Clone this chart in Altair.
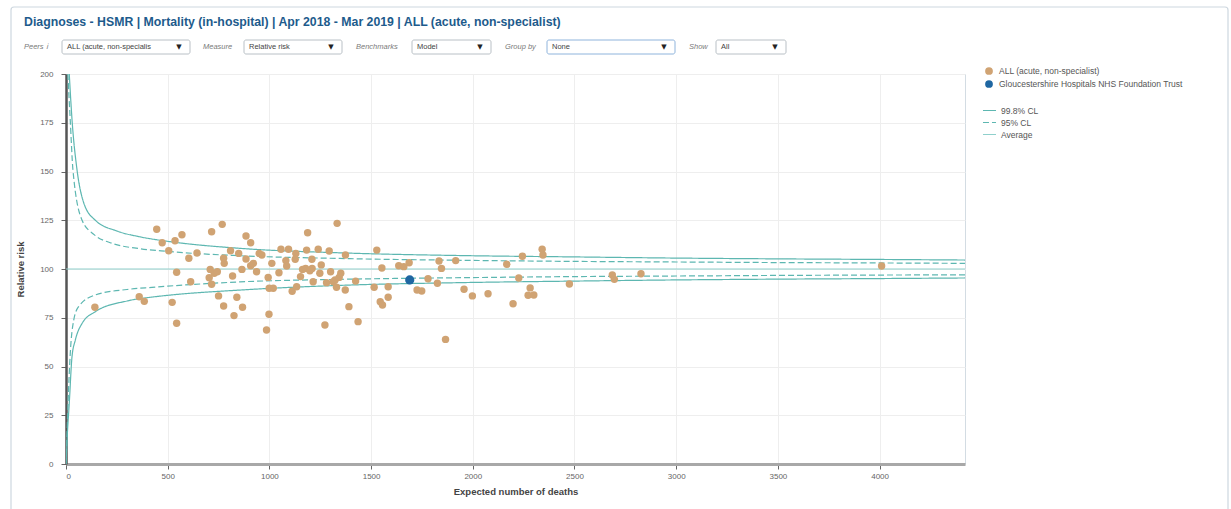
import altair as alt
import pandas as pd

# ---------------- data ----------------
group_names = ["ALL (acute, non-specialist)", "Gloucestershire Hospitals NHS Foundation Trust"]

peer_E = [142, 360, 385, 446, 473, 505, 536, 570, 522, 544, 544, 604, 613, 644, 716, 768,
          709, 704, 716, 729, 744, 775, 778, 750, 775, 809, 819, 840, 826, 849, 865, 868,
          885, 908, 885, 908, 921, 937, 950, 963, 994, 999, 1019, 998, 986, 1012, 1047, 1057,
          1081, 1085, 1094, 1112, 1130, 1127, 1134, 1153, 1163, 1178, 1183, 1188, 1199, 1209,
          1210, 1215, 1240, 1248, 1255, 1273, 1281, 1294, 1301, 1314, 1323, 1330, 1333, 1343,
          1351, 1373, 1374, 1391, 1424, 1436, 1515, 1528, 1553, 1545, 1556, 1584, 1584, 1636,
          1661, 1687, 1726, 1749, 1780, 1826, 1834, 1846, 1866, 1916, 1957, 1998, 2075, 2167,
          2198, 2226, 2244, 2272, 2282, 2300, 2341, 2345, 2475, 2686, 2696, 2827, 4010]
peer_RR = [80.4, 85.8, 83.4, 120.4, 113.5, 109.4, 114.5, 117.6, 82.9, 98.3, 72.2, 105.5, 93.5,
           108.2, 119.1, 122.9, 99.8, 95.5, 92.2, 97.8, 98.6, 105.5, 102.9, 86.2, 81.0, 109.4,
           96.4, 85.5, 76.1, 108.0, 99.8, 80.4, 116.9, 113.5, 105.1, 101.7, 102.9, 98.6, 108.0,
           107.2, 95.7, 90.1, 90.1, 76.8, 68.7, 102.9, 98.1, 110.1, 104.3, 101.5, 110.1, 88.6,
           108.0, 105.0, 90.9, 96.1, 99.8, 100.3, 109.7, 118.6, 99.1, 105.0, 100.3, 93.5, 110.1,
           97.8, 102.1, 71.3, 93.0, 109.2, 98.6, 93.5, 94.4, 90.6, 123.4, 95.7, 97.8, 89.2,
           107.2, 80.7, 93.8, 73.0, 90.6, 109.7, 100.5, 83.2, 81.5, 90.9, 85.5, 101.7, 101.2,
           103.2, 89.2, 88.7, 95.0, 92.7, 104.1, 100.3, 63.9, 104.3, 89.6, 86.2, 87.3, 102.4,
           82.2, 95.4, 106.5, 86.5, 90.3, 86.7, 110.1, 107.2, 92.3, 96.9, 94.7, 97.6, 101.5]
trust_E = [1690]
trust_RR = [94.4]

line_names = ["99.8% CL", "95% CL", "Average"]

up998_E = [16, 30, 54, 87, 144, 250, 364, 500, 855, 1346, 1937, 2500, 3000, 3500, 4000, 4420]
up998_V = [200, 176, 151, 134, 125, 119.5, 116.5, 114.2, 110.6, 108.3, 106.9, 106.2, 105.6, 105.2, 104.9, 104.6]
lo998_E = [0, 1, 6, 16, 29.5, 46, 79, 144, 300, 423, 500, 855, 1346, 1937, 2500, 3000, 3500, 4000, 4420]
lo998_V = [0, 2, 14, 31, 55, 63.6, 72.1, 78.1, 83.6, 85.6, 86.5, 89.2, 91.6, 93.0, 93.8, 94.4, 94.8, 95.1, 95.4]
up95_E = [9, 21, 34, 79, 140, 226, 364, 500, 855, 1346, 2000, 2500, 3000, 3500, 4000, 4420]
up95_V = [200, 176, 151, 125, 117.5, 113.2, 110.4, 109.0, 106.8, 105.4, 104.4, 103.9, 103.6, 103.3, 103.1, 102.9]
lo95_E = [0, 2.5, 10, 21, 38, 62, 144, 300, 423, 500, 855, 1346, 2000, 2500, 3000, 3500, 4000, 4420]
lo95_V = [0, 7, 31, 56.8, 73.8, 80.7, 86.7, 89.5, 90.6, 91.2, 93.4, 94.7, 95.6, 96.1, 96.4, 96.7, 96.9, 97.0]
avg_E = [0, 4420]
avg_V = [100, 100]

x_ticks = [0, 500, 1000, 1500, 2000, 2500, 3000, 3500, 4000]
y_ticks = [0, 25, 50, 75, 100, 125, 150, 175, 200]

title_text = "Diagnoses - HSMR | Mortality (in-hospital) | Apr 2018 - Mar 2019 | ALL (acute, non-specialist)"
control_labels = ["Peers \u2139", "Measure", "Benchmarks", "Group by", "Show"]
control_values = ["ALL (acute, non-specialis", "Relative risk", "Model", "None", "All"]
x_title = "Expected number of deaths"
y_title = "Relative risk"

# ---------------- tables ----------------
pts_df = pd.DataFrame({
    "E": peer_E + trust_E,
    "RR": peer_RR + trust_RR,
    "group": [group_names[0]] * len(peer_E) + [group_names[1]] * len(trust_E),
})

rows = []
for cid, (es, vs, name) in enumerate([
    (avg_E, avg_V, line_names[2]),
    (up998_E, up998_V, line_names[0]),
    (lo998_E, lo998_V, line_names[0]),
    (up95_E, up95_V, line_names[1]),
    (lo95_E, lo95_V, line_names[1]),
]):
    for e, v in zip(es, vs):
        rows.append({"E": e, "V": v, "line": name, "curve": cid})
lines_df = pd.DataFrame(rows)

one = pd.DataFrame({"k": [0]})
FONT = "Liberation Sans"
OX, OY = 66, 74  # plot origin in page pixels

xscale = alt.Scale(domain=[0, 4420], nice=False, zero=False)
yscale = alt.Scale(domain=[0, 200], nice=False)
xaxis = alt.Axis(values=x_ticks, format="d", title=x_title, grid=True, gridColor="#eeeeee",
                 domainColor="#a8a8a8", domainWidth=3, tickColor="#666666", tickSize=5,
                 labelFontSize=8, labelColor="#666666", labelPadding=3, labelFont=FONT,
                 titleFontSize=9.5, titleFontWeight="bold", titleColor="#444444",
                 titleFont=FONT, titlePadding=6)
yaxis = alt.Axis(values=y_ticks, format="d", title=y_title, grid=True, gridColor="#eeeeee",
                 domainColor="#555555", domainWidth=2.5, tickColor="#666666", tickSize=5,
                 labelFontSize=8, labelColor="#666666", labelPadding=8, labelFont=FONT,
                 titleFontSize=9.5, titleFontWeight="bold", titleColor="#444444",
                 titleFont=FONT, titlePadding=14)

layers = []

# outer panel frame
layers.append(alt.Chart(one).mark_rect(fillOpacity=0, stroke="#cdd7df", strokeWidth=1.2, cornerRadius=3).encode(
    x=alt.value(11 - OX), x2=alt.value(1228 - OX), y=alt.value(7 - OY), y2=alt.value(520 - OY)))

# title
layers.append(alt.Chart(one).mark_text(align="left", baseline="middle", fontSize=12.3, fontWeight="bold",
                                       color="#1d5b8c", font=FONT).encode(
    x=alt.value(24 - OX), y=alt.value(22 - OY), text=alt.value(title_text)))

# controls row
label_x = [24, 203, 356, 505, 689]
box_x = [(62, 190), (244, 342), (412, 491), (547, 675), (716, 786)]
for i, (lab, val) in enumerate(zip(control_labels, control_values)):
    bx0, bx1 = box_x[i]
    border = "#8fb4dc" if lab == "Group by" else "#b9c0c6"
    layers.append(alt.Chart(one).mark_text(align="left", baseline="middle", fontSize=7.5, fontStyle="italic",
                                           color="#7a7a7a", font=FONT).encode(
        x=alt.value(label_x[i] - OX), y=alt.value(47 - OY), text=alt.value(lab)))
    layers.append(alt.Chart(one).mark_rect(fill="white", stroke=border, strokeWidth=1, cornerRadius=2).encode(
        x=alt.value(bx0 - OX), x2=alt.value(bx1 - OX), y=alt.value(40 - OY), y2=alt.value(54 - OY)))
    layers.append(alt.Chart(one).mark_text(align="left", baseline="middle", fontSize=7.5,
                                           color="#444444", font=FONT).encode(
        x=alt.value(bx0 + 5 - OX), y=alt.value(47 - OY), text=alt.value(val)))
    layers.append(alt.Chart(one).mark_text(align="center", baseline="middle", fontSize=7,
                                           color="#222222", font="DejaVu Sans").encode(
        x=alt.value(bx1 - 11 - OX), y=alt.value(47 - OY), text=alt.value("\u25BC")))

line_legend = alt.Legend(orient="none", legendX=916, legendY=29, title=None, labelFontSize=8.5,
                         labelColor="#555555", labelFont=FONT, symbolSize=170, padding=0,
                         rowPadding=0, labelOffset=4, labelLimit=400, symbolType="stroke")
lines = alt.Chart(lines_df).mark_line(interpolate="monotone", clip=True).encode(
    x=alt.X("E:Q", scale=xscale, axis=xaxis),
    y=alt.Y("V:Q", scale=yscale, axis=yaxis),
    detail="curve:N",
    stroke=alt.Stroke("line:N", scale=alt.Scale(domain=line_names, range=["#5db7b1", "#5db7b1", "#8fd0cc"]),
                      legend=line_legend),
    strokeDash=alt.StrokeDash("line:N", scale=alt.Scale(domain=line_names, range=[[1, 0], [6, 3], [1, 0]]),
                              legend=line_legend),
    strokeWidth=alt.StrokeWidth("line:N", scale=alt.Scale(domain=line_names, range=[1.2, 1.2, 2.0]),
                                legend=line_legend),
)
layers.append(lines)

pt_legend = alt.Legend(orient="none", legendX=918, legendY=-8, title=None, labelFontSize=8.5,
                       labelColor="#555555", labelFont=FONT, padding=0, rowPadding=3, symbolSize=60,
                       labelOffset=5, labelLimit=400, symbolType="circle", symbolOpacity=1)
points = alt.Chart(pts_df).mark_circle(opacity=1).encode(
    x=alt.X("E:Q", scale=xscale, axis=xaxis),
    y=alt.Y("RR:Q", scale=yscale, axis=yaxis),
    color=alt.Color("group:N", scale=alt.Scale(domain=group_names, range=["#d0a373", "#1f67a2"]),
                    legend=pt_legend),
    size=alt.condition(alt.datum.group == group_names[1], alt.value(85), alt.value(55)),
)
layers.append(points)

chart = alt.layer(*layers).properties(
    width=899, height=390,
    autosize=alt.AutoSizeParams(type="none"),
    padding={"left": OX, "top": OY, "right": 1231 - 965, "bottom": 509 - 464},
    background="white",
).configure_view(stroke="#d3dce3", strokeWidth=1)

chart.save("out.html", embed_options={"renderer": "svg", "actions": False})
